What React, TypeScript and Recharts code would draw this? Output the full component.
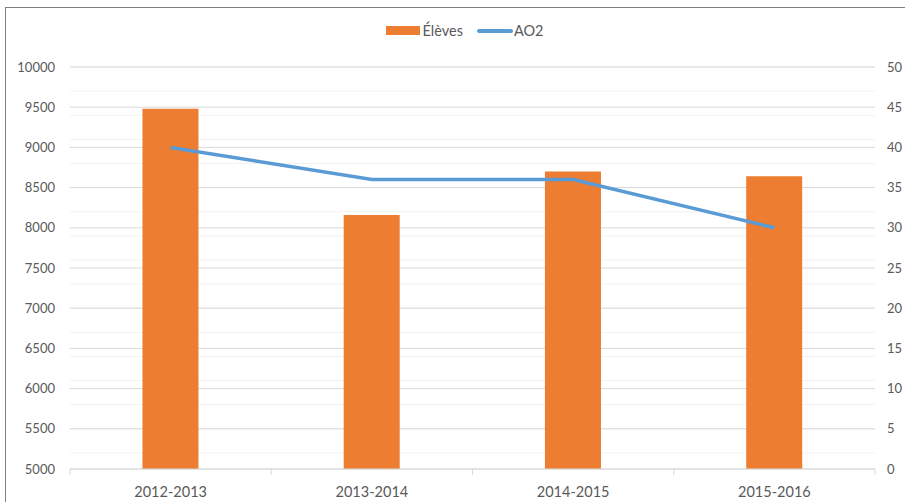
import {
  ComposedChart,
  Bar,
  Line,
  XAxis,
  YAxis,
  CartesianGrid,
} from "recharts";

// ─── Data ──────────────────────────────────────────────────

const years = ["2012-2013", "2013-2014", "2014-2015", "2015-2016"];
const eleves = [9480, 8160, 8700, 8640];
const ao2 = [40, 36, 36, 30];

const leftTicks = [5000, 5500, 6000, 6500, 7000, 7500, 8000, 8500, 9000, 9500, 10000];
const rightTicks = [0, 5, 10, 15, 20, 25, 30, 35, 40, 45, 50];
const minorTicks = Array.from({ length: 51 }, (_, i) => 5000 + i * 100);

const data = years.map((year, i) => ({ year, eleves: eleves[i], ao2: ao2[i] }));

const FONT = "Lato, 'Open Sans', sans-serif";
const TEXT = "#595959";
const ORANGE = "#ED7D31";
const BLUE = "#5B9BD5";

// ─── Pieces ────────────────────────────────────────────────

function LegendBox() {
  return (
    <div
      style={{
        position: "absolute",
        top: 22,
        left: 0,
        width: 930,
        display: "flex",
        justifyContent: "center",
        alignItems: "center",
        gap: 14,
        fontFamily: FONT,
        fontSize: 14.5,
        color: TEXT,
      }}
    >
      <span style={{ display: "inline-flex", alignItems: "center" }}>
        <span style={{ width: 34, height: 9, background: ORANGE, marginRight: 2 }} />
        Élèves
      </span>
      <span style={{ display: "inline-flex", alignItems: "center" }}>
        <span
          style={{
            width: 36,
            height: 4,
            borderRadius: 2,
            background: BLUE,
            marginRight: 1,
          }}
        />
        AO2
      </span>
    </div>
  );
}

// eslint-disable-next-line @typescript-eslint/no-explicit-any
function YearTick(props: any) {
  const { x, y, payload, index } = props;
  const half = 805 / years.length / 2;
  return (
    <g>
      <line x1={x - half} y1={y - 8} x2={x - half} y2={y - 2} stroke="#D9D9D9" />
      {index === years.length - 1 && (
        <line x1={x + half} y1={y - 8} x2={x + half} y2={y - 2} stroke="#D9D9D9" />
      )}
      <text
        x={x}
        y={y + 20}
        textAnchor="middle"
        fill={TEXT}
        fontSize={14.5}
        fontFamily={FONT}
      >
        {payload.value}
      </text>
    </g>
  );
}

export default function App() {
  return (
    <div
      style={{
        position: "fixed",
        left: 0,
        top: 0,
        width: 905,
        height: 502,
        overflow: "hidden",
        background: "#fff",
      }}
    >
      <div
        style={{
          position: "absolute",
          left: 5,
          top: 7,
          width: 940,
          height: 540,
          border: "1.5px solid #7F7F7F",
        }}
      />
      <LegendBox />
      <div style={{ position: "absolute", left: 0, top: 0 }}>
        <ComposedChart
          width={905}
          height={502}
          data={data}
          margin={{ top: 67, right: 0, bottom: 0, left: 0 }}
          barCategoryGap="36%"
        >
          <CartesianGrid
            vertical={false}
            horizontalValues={minorTicks}
            stroke="#F2F2F2"
            yAxisId="left"
          />
          <CartesianGrid vertical={false} stroke="#D9D9D9" yAxisId="left" />
          <XAxis
            dataKey="year"
            height={33}
            axisLine={{ stroke: "#D9D9D9" }}
            tickLine={false}
            tick={<YearTick />}
            interval={0}
          />
          <YAxis
            yAxisId="left"
            width={70}
            domain={[5000, 10000]}
            ticks={leftTicks}
            axisLine={false}
            tickLine={false}
            tickSize={0}
            tickMargin={15}
            tick={{ fill: TEXT, fontSize: 13, fontFamily: FONT }}
          />
          <YAxis
            yAxisId="right"
            orientation="right"
            width={30}
            domain={[0, 50]}
            ticks={rightTicks}
            axisLine={false}
            tickLine={false}
            tickSize={0}
            tickMargin={12}
            tick={{ fill: TEXT, fontSize: 13, fontFamily: FONT }}
          />
          <Bar
            yAxisId="left"
            dataKey="eleves"
            name="Élèves"
            fill={ORANGE}
            isAnimationActive={false}
          />
          <Line
            yAxisId="right"
            dataKey="ao2"
            name="AO2"
            type="linear"
            stroke={BLUE}
            strokeWidth={3.5}
            dot={false}
            activeDot={false}
            isAnimationActive={false}
          />
        </ComposedChart>
      </div>
    </div>
  );
}
